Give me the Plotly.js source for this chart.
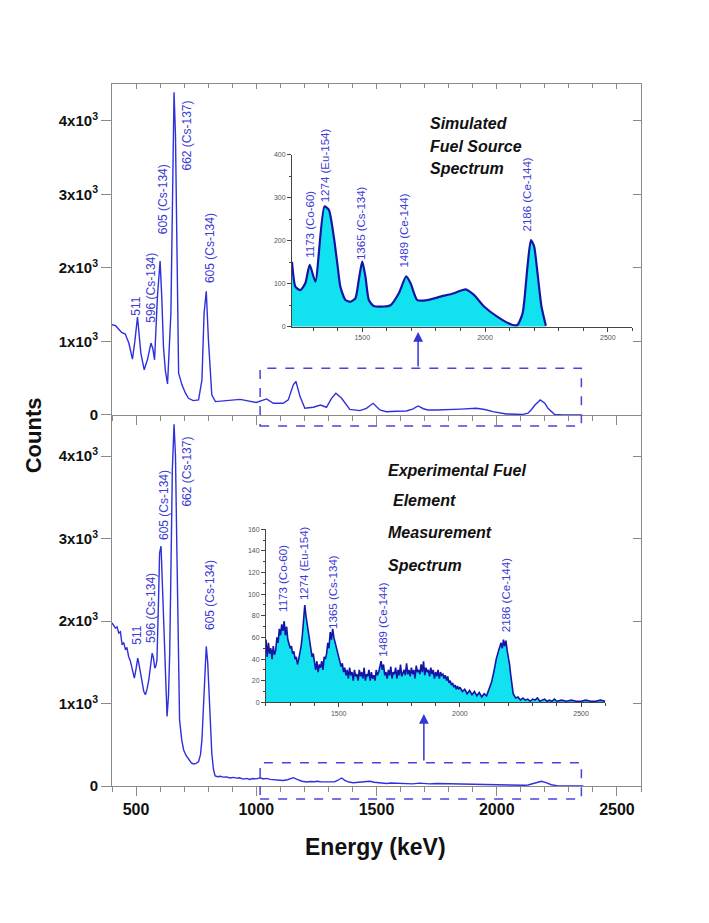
<!DOCTYPE html>
<html>
<head>
<meta charset="utf-8">
<script src="https://cdn.plot.ly/plotly-3.0.1.min.js"></script>
<style>html,body{margin:0;padding:0;background:#fff;}#chart{width:709px;height:923px;}</style>
</head>
<body>
<div id="chart"></div>
<script>
// ---------- DATA ----------
// Main panel, simulated spectrum (keV, counts)
const simEnergy = [400,415,440,455,470,485,495,506,520,534,548,562,570,577,589,600,607,614,622,631,645,652,658,664,670,677,691,705,718,738,760,774,783,792,801,815,830,870,900,933,960,1000,1043,1071,1112,1133,1154,1165,1182,1202,1237,1267,1292,1313,1331,1355,1389,1431,1458,1486,1514,1541,1580,1624,1650,1673,1695,1714,1750,1790,1850,1915,1950,1984,2010,2040,2080,2109,2130,2143,2160,2181,2200,2213,2240,2275,2320,2350];
const simCounts = [1228,1214,1123,1100,978,760,1000,1332,841,614,760,978,900,750,1614,2092,1600,932,600,423,1387,3500,4389,3800,2200,568,410,300,227,196,205,477,1387,1683,1023,273,182,196,200,212,195,170,218,159,159,205,410,455,250,91,105,136,105,227,295,227,77,59,91,159,68,45,50,55,80,123,85,68,68,70,80,91,75,45,28,14,10,9,25,68,140,205,160,91,9,0,0,0];

// Main panel, experimental spectrum (keV, counts)
const expEnergy = [400,407,414,421,428,435,442,449,456,462,469,476,483,488,493,500,507,512,518,525,532,539,546,553,560,567,572,578,583,587,593,598,604,609,615,622,629,635,640,646,651,658,664,670,676,681,690,698,708,719,730,739,750,760,768,774,783,792,798,803,809,815,822,
829,840,850,862,877,890,905,918,930,946,960,972,985,1000,1016,1030,1042,1058,1071,1090,1110,1130,1145,1154,1170,1190,1210,1225,1240,1255,1270,1293,1310,1325,1340,1355,1368,1385,1403,1430,1455,1472,1490,1510,1525,1542,1560,1580,1600,1620,1650,1680,1700,1720,1750,1780,1810,1850,1888,1915,1940,1960,1985,2010,2040,2070,2095,2115,2130,2151,2170,2186,2205,2227,2250,2275,2320,2360];
const expCounts = [1977,1940,1916,1930,1855,1870,1713,1740,1652,1680,1571,1520,1430,1400,1308,1420,1551,1480,1369,1250,1150,1106,1180,1288,1450,1612,1560,1430,1460,1531,2200,2827,2908,2500,2017,1300,843,1100,1612,2800,3840,4386,4000,2827,1500,802,560,437,370,316,280,267,275,295,380,559,1207,1693,1500,1207,700,397,200,
121,112,118,108,110,98,104,95,100,84,92,80,90,86,100,85,92,80,78,72,66,76,90,101,80,58,48,55,52,58,50,48,55,50,70,97,68,48,40,45,50,58,45,38,34,30,36,32,28,30,26,35,30,26,30,28,31,27,22,25,22,16,12,13,10,9,8,9,12,30,50,57,40,15,5,2,0,0];

// Inset, simulated spectrum (keV, counts)
const simInsetEnergy = [1214,1228,1248,1268,1286,1309,1346,1364,1384,1400,1411,1432,1452,1472,1486,1500,1513,1527,1547,1588,1615,1649,1679,1697,1724,1765,1819,1874,1921,1955,1996,2051,2112,2132,2153,2173,2187,2200,2214,2230,2248];
const simInsetCounts = [151,93,85,101,144,105,280,272,210,140,93,62,58,66,109,152,117,62,48,47,50,78,117,101,62,62,70,78,87,74,47,23,4,4,31,140,202,187,124,47,2];

// Inset, experimental spectrum (keV, counts)
const expInsetEnergy = [
1200,1205,1210,1215,1220,1225,1230,1235,1240,1245,
1250,1255,1260,1265,1270,1275,1280,1285,1290,1295,
1300,1305,1310,1315,1320,1325,1330,1335,1340,1345,
1350,1355,1360,1365,1370,1375,1380,1385,1390,1395,
1400,1405,1410,1415,1420,1425,1430,1435,1440,1445,
1450,1455,1460,1465,1470,1475,1480,1485,1490,1495,
1500,1505,1510,1515,1520,1525,1530,1535,1540,1545,
1550,1555,1560,1565,1570,1575,1580,1585,1590,1595,
1600,1605,1610,1615,1620,1625,1630,1635,1640,1645,
1650,1655,1660,1665,1670,1675,1680,1685,1690,1695,
1700,1705,1710,1715,1720,1725,1730,1735,1740,1745,
1750,1755,1760,1765,1770,1775,1780,1785,1790,1795,
1800,1805,1810,1815,1820,1825,1830,1835,1840,1845,
1850,1855,1860,1865,1870,1875,1880,1885,1890,1895,
1900,1905,1910,1915,1920,1925,1930,1935,1940,1945,
1950,1955,1960,1965,1970,1975,1980,1985,1990,1995,
2000,2010,2020,2030,2040,2050,2060,2070,2080,2090,
2100,2110,2120,2130,2140,2150,2160,2170,2175,2180,
2185,2190,2195,2200,2205,2210,2215,2220,2230,2240,
2250,2260,2270,2280,2290,2300,2310,2320,2330,2340,
2350,2360,2370,2380,2390,2400,2420,2440,2460,2480,
2500,2520,2540,2560,2580,2600];
const expInsetCounts = [
58,42,55,45,50,40,52,44,48,60,
55,68,62,72,66,75,62,70,58,55,
50,52,45,47,40,42,35,40,45,52,
62,75,90,80,72,65,55,50,42,45,
35,30,38,28,35,32,38,30,42,40,
45,55,50,65,58,68,60,55,50,45,
42,38,33,36,28,32,25,30,22,32,
25,28,20,30,24,26,20,30,24,28,
22,32,20,26,24,30,20,28,22,25,
20,30,25,28,32,38,30,35,25,28,
22,30,25,33,22,28,26,32,22,30,
25,35,24,28,30,25,36,26,30,24,
32,26,30,22,34,28,30,26,35,28,
38,25,32,28,30,24,32,26,30,22,
28,24,30,22,28,25,26,22,25,20,
24,18,20,16,18,14,16,12,15,12,
14,10,12,8,11,7,10,6,9,5,
8,6,12,18,28,40,48,55,50,58,
52,57,48,42,35,25,15,8,4,5,
2,4,2,3,1,3,2,4,1,2,
3,1,2,1,3,1,2,1,2,1,
1,2,1,1,2,1];

// Tick labels and text
const countTickVals = [0,1000,2000,3000,4000];
const countTickText = ['0','1x10<sup>3</sup>','2x10<sup>3</sup>','3x10<sup>3</sup>','4x10<sup>3</sup>'];
const mainPeakLabels = ['511','596 (Cs-134)','605 (Cs-134)','662 (Cs-137)','605 (Cs-134)'];
const insetPeakLabels = ['1173 (Co-60)','1274 (Eu-154)','1365 (Cs-134)','1489 (Ce-144)','2186 (Ce-144)'];
const simTitleLines = ['Simulated','Fuel Source','Spectrum'];
const expTitleLines = ['Experimental Fuel',' Element','Measurement','Spectrum'];

// ---------- STYLE / LAYOUT ----------
const FONT = 'Arial, "Liberation Sans", sans-serif';
const MAINBLUE = '#2f2fdc';
const LBLBLUE = '#3a3ad4';
const GRAY = '#8a8a8a';
const SPLIT = 0.5285;

const traces = [
  {x: simEnergy, y: simCounts, xaxis:'x2', yaxis:'y2', type:'scatter', mode:'lines',
   line:{color:MAINBLUE, width:1.4}, hoverinfo:'skip', showlegend:false},
  {x: expEnergy, y: expCounts, xaxis:'x', yaxis:'y', type:'scatter', mode:'lines',
   line:{color:MAINBLUE, width:1.4}, hoverinfo:'skip', showlegend:false},
  {x: simInsetEnergy, y: simInsetCounts, xaxis:'x3', yaxis:'y3', type:'scatter', mode:'lines',
   line:{color:'#1515a5', width:2.2, shape:'spline', smoothing:0.6}, fill:'tozeroy', fillcolor:'#12e2ef',
   hoverinfo:'skip', showlegend:false},
  {x: expInsetEnergy, y: expInsetCounts, xaxis:'x4', yaxis:'y4', type:'scatter', mode:'lines',
   line:{color:'#1515a5', width:1.6}, fill:'tozeroy', fillcolor:'#12e2ef',
   hoverinfo:'skip', showlegend:false},
  // empty traces so that the frame (top / right) axes are drawn
  {x: [], y: [], xaxis:'x5', yaxis:'y5', type:'scatter', mode:'lines', hoverinfo:'skip', showlegend:false},
  {x: [], y: [], xaxis:'x', yaxis:'y6', type:'scatter', mode:'lines', hoverinfo:'skip', showlegend:false}
];

const mainX = {
  range:[400,2600], tickmode:'linear', tick0:500, dtick:500, ticks:'outside', ticklen:9, tickwidth:1,
  tickcolor:GRAY, showline:true, linecolor:GRAY, linewidth:1, showgrid:false, zeroline:false,
  minor:{dtick:100, tick0:0, ticks:'outside', ticklen:5, tickcolor:GRAY, showgrid:false}
};
const mainY = {
  range:[0,4500], tickmode:'array', tickvals:countTickVals, ticktext:countTickText,
  ticks:'outside', ticklen:10, tickcolor:GRAY, showline:true, linecolor:GRAY, linewidth:1,
  showgrid:false, zeroline:false, tickfont:{family:FONT, size:15, color:'#111', weight:'bold'}
};
const insetTickFont = {family:FONT, size:7, color:'#555'};

const layout = {
  width:709, height:923,
  margin:{l:112, r:68, t:84, b:137},
  paper_bgcolor:'#ffffff', plot_bgcolor:'rgba(0,0,0,0)',
  showlegend:false,
  xaxis: Object.assign({}, mainX, {domain:[0,1], anchor:'y',
    tickfont:{family:FONT, size:16, color:'#111', weight:'bold'}}),
  yaxis: Object.assign({}, mainY, {domain:[0,SPLIT], anchor:'x'}),
  xaxis2: Object.assign({}, mainX, {domain:[0,1], anchor:'y2', showticklabels:false}),
  yaxis2: Object.assign({}, mainY, {domain:[SPLIT,1], anchor:'x2'}),
  // frame ticks (top and right, pointing inward)
  xaxis5: {overlaying:'x2', side:'top', anchor:'y2', range:[400,2600], tickmode:'linear', tick0:500, dtick:500,
    ticks:'inside', ticklen:5, tickcolor:GRAY, showline:true, linecolor:GRAY, showticklabels:false,
    showgrid:false, zeroline:false, minor:{dtick:100, tick0:0, ticks:'inside', ticklen:4, tickcolor:GRAY}},
  yaxis5: {overlaying:'y2', side:'right', anchor:'x2', range:[0,4500], tickmode:'array', tickvals:countTickVals,
    ticks:'inside', ticklen:8, tickcolor:GRAY, showline:true, linecolor:GRAY, showticklabels:false,
    showgrid:false, zeroline:false},
  yaxis6: {overlaying:'y', side:'right', anchor:'x', range:[0,4500], tickmode:'array', tickvals:countTickVals,
    ticks:'inside', ticklen:8, tickcolor:GRAY, showline:true, linecolor:GRAY, showticklabels:false,
    showgrid:false, zeroline:false},
  // inset 1
  xaxis3: {domain:[0.3403,0.9836], anchor:'y3', range:[1214,2600], tickmode:'linear', tick0:1500, dtick:500,
    ticks:'outside', ticklen:4, tickcolor:'#444', showline:true, linecolor:'#444', linewidth:1,
    showgrid:false, zeroline:false, tickfont:insetTickFont,
    minor:{dtick:100, tick0:0, ticks:'outside', ticklen:3, tickcolor:'#444'}},
  yaxis3: {domain:[0.6543,0.8989], anchor:'x3', range:[0,400], tickmode:'linear', tick0:0, dtick:100,
    ticks:'outside', ticklen:4, tickcolor:'#444', showline:true, linecolor:'#444', linewidth:1,
    showgrid:false, zeroline:false, tickfont:insetTickFont,
    minor:{dtick:50, ticks:'outside', ticklen:2, tickcolor:'#444'}},
  // inset 2
  xaxis4: {domain:[0.2911,0.9325], anchor:'y4', range:[1200,2600], tickmode:'linear', tick0:1500, dtick:500,
    ticks:'outside', ticklen:4, tickcolor:'#444', showline:true, linecolor:'#444', linewidth:1,
    showgrid:false, zeroline:false, tickfont:insetTickFont,
    minor:{dtick:100, tick0:0, ticks:'outside', ticklen:3, tickcolor:'#444'}},
  yaxis4: {domain:[0.1192,0.3657], anchor:'x4', range:[0,160], tickmode:'linear', tick0:0, dtick:20,
    ticks:'outside', ticklen:4, tickcolor:'#444', showline:true, linecolor:'#444', linewidth:1,
    showgrid:false, zeroline:false, tickfont:insetTickFont,
    minor:{dtick:10, ticks:'outside', ticklen:2, tickcolor:'#444'}},
  shapes: [
    {type:'rect', xref:'x2', yref:'paper', x0:1016, x1:2352, y0:0.5128, y1:0.595,
     line:{color:'#4545dd', width:1.5, dash:'dash'}},
    {type:'rect', xref:'x', yref:'paper', x0:1016, x1:2352, y0:-0.0185, y1:0.0332,
     line:{color:'#4545dd', width:1.5, dash:'dash'}}
  ],
  annotations: []
};

// peak label positions (keV, counts) — layout only
const topMainPos = [[501,1477],[559,1733],[612,2933],[711,3797],[805,2274]];
const botMainPos = [[504,1824],[562,2159],[614,3414],[711,3811],[805,2321]];
const inset1Pos = [[1286,239],[1346,377],[1496,242],[1672,225],[2173,309]];
const inset2Pos = [[1270,115],[1358,129],[1476,102],[1685,76],[2190,99]];

function addLabels(texts, pos, xr, yr, size) {
  texts.forEach((t,i) => layout.annotations.push({
    xref:xr, yref:yr, x:pos[i][0], y:pos[i][1], text:t, textangle:-90, showarrow:false,
    xanchor:'center', yanchor:'middle', font:{family:FONT, size:size, color:LBLBLUE}
  }));
}
addLabels(mainPeakLabels, topMainPos, 'x2', 'y2', 12);
addLabels(mainPeakLabels, botMainPos, 'x', 'y', 12);
addLabels(insetPeakLabels, inset1Pos, 'x3', 'y3', 11.5);
addLabels(insetPeakLabels, inset2Pos, 'x4', 'y4', 11.5);

const simTitleY = [0.9444, 0.9107, 0.8803];
simTitleLines.forEach((t,i) => layout.annotations.push({
  xref:'paper', yref:'paper', x:0.598, y:simTitleY[i], text:'<b><i>'+t+'</i></b>', showarrow:false,
  xanchor:'left', yanchor:'middle', font:{family:FONT, size:16, color:'#111'}
}));
const expTitleY = [0.4501, 0.406, 0.3604, 0.3148];
expTitleLines.forEach((t,i) => layout.annotations.push({
  xref:'paper', yref:'paper', x:(i===1?0.5274:0.518), y:expTitleY[i], text:'<b><i>'+t.trim()+'</i></b>', showarrow:false,
  xanchor:'left', yanchor:'middle', font:{family:FONT, size:16, color:'#111'}
}));

// arrows from zoom boxes to insets
layout.annotations.push({xref:'x2', yref:'paper', x:1673, y:0.6467, ax:0, ay:36, axref:'pixel', ayref:'pixel',
  text:'', showarrow:true, arrowhead:2, arrowsize:1.3, arrowwidth:1.5, arrowcolor:'#3535d5'});
layout.annotations.push({xref:'x', yref:'paper', x:1697, y:0.1026, ax:0, ay:48, axref:'pixel', ayref:'pixel',
  text:'', showarrow:true, arrowhead:2, arrowsize:1.3, arrowwidth:1.5, arrowcolor:'#3535d5'});

// axis titles
layout.annotations.push({xref:'paper', yref:'paper', x:-0.1488, y:0.5, text:'<b>Counts</b>', textangle:-90,
  showarrow:false, xanchor:'center', yanchor:'middle', font:{family:FONT, size:22, color:'#111'}});
layout.annotations.push({xref:'paper', yref:'paper', x:0.4977, y:-0.0869, text:'<b>Energy (keV)</b>',
  showarrow:false, xanchor:'center', yanchor:'middle', font:{family:FONT, size:23, color:'#111'}});

Plotly.newPlot('chart', traces, layout, {staticPlot:true, displayModeBar:false});
</script>
</body>
</html>
